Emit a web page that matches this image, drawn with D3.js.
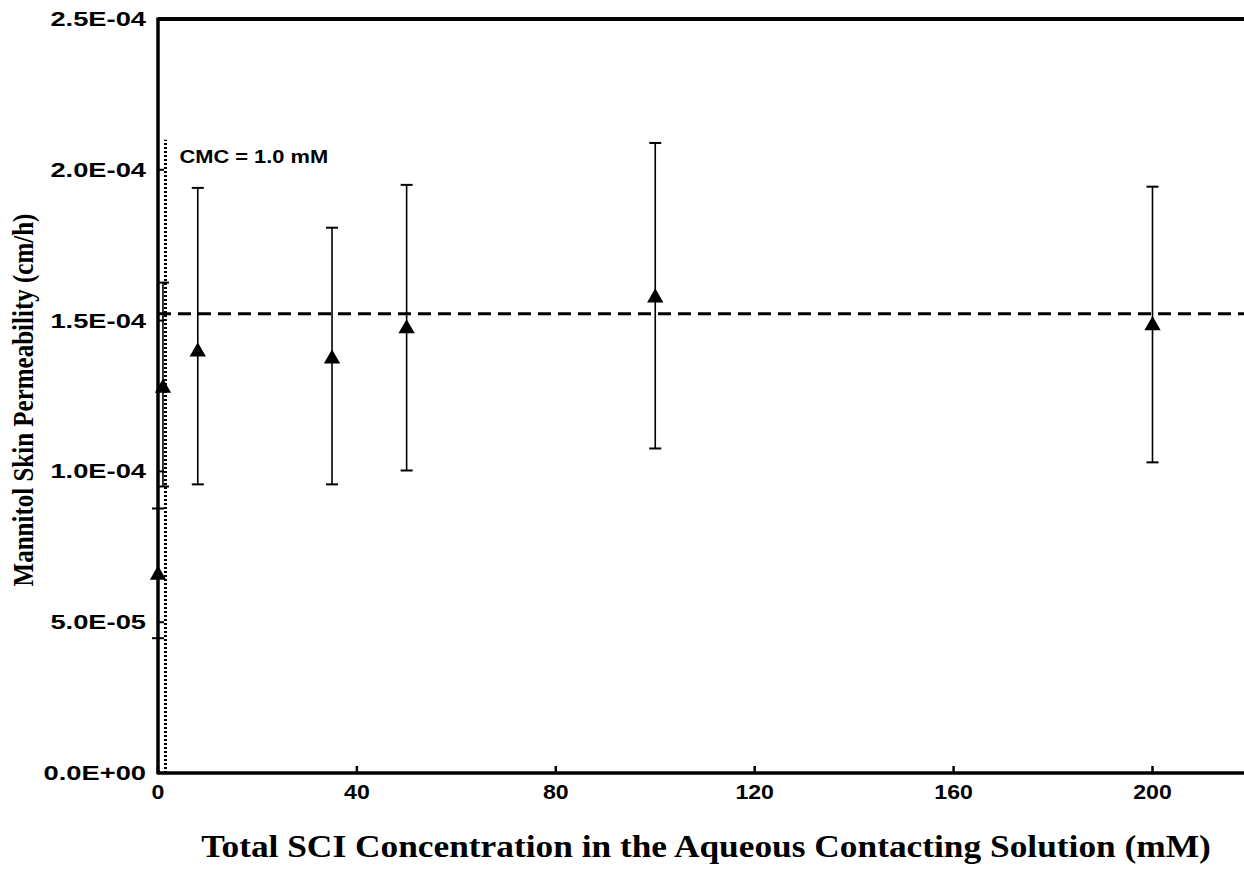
<!DOCTYPE html>
<html>
<head>
<meta charset="utf-8">
<script src="https://cdn.jsdelivr.net/npm/d3@7"></script>
<style>
  body { margin: 0; background: #fff; }
  svg { display: block; }
</style>
</head>
<body>
<svg id="chart"></svg>
<script>
// data
var concentrations = [0, 1, 8, 35, 50, 100, 200]
var permeability   = [6.6e-5, 1.28e-4, 1.40e-4, 1.377e-4, 1.477e-4, 1.579e-4, 1.487e-4]
var errUpper       = [8.77e-5, 1.626e-4, 1.94e-4, 1.808e-4, 1.95e-4, 2.089e-4, 1.944e-4]
var errLower       = [4.47e-5, 9.5e-5, 9.57e-5, 9.57e-5, 1.003e-4, 1.076e-4, 1.03e-4]
var meanPermeability = 1.523e-4
var cmcValue = 1.5
var cmcTop = 2.1e-4
var xTicks = [0, 40, 80, 120, 160, 200]
var yTicks = [0, 5e-5, 1e-4, 1.5e-4, 2e-4, 2.5e-4]

var svg = d3.select("#chart")
var width = 1244, height = 879
svg.attr("width", width).attr("height", height)

var dims = { left: 158, top: 19, bottom: 773 }

var x = d3.scaleLinear().domain([0, 220]).range([dims.left, dims.left + 220 * 4.9725])
var y = d3.scaleLinear().domain([0, 2.5e-4]).range([dims.bottom, dims.top])

var tickFont = "'Liberation Sans', Arial, sans-serif"
var titleFont = "'Liberation Serif', 'Times New Roman', serif"

var data = concentrations.map((c, i) => ({x: c, y: permeability[i], hi: errUpper[i], lo: errLower[i]}))

//mean dashed line
svg.append("line")
   .attr("x1", x(0)).attr("x2", width)
   .attr("y1", y(meanPermeability)).attr("y2", y(meanPermeability))
   .attr("stroke", "#000")
   .attr("stroke-width", 3)
   .attr("stroke-dasharray", "13,7")

//CMC dotted line
svg.append("line")
   .attr("x1", x(cmcValue)).attr("x2", x(cmcValue))
   .attr("y1", y(0)).attr("y2", y(cmcTop))
   .attr("stroke", "#000")
   .attr("stroke-width", 3)
   .attr("stroke-dasharray", "2,2")

svg.append("text")
   .attr("transform", `translate(${x(cmcValue) + 14},${y(cmcTop) + 23}) scale(1.15,1)`)
   .attr("font-family", tickFont)
   .attr("font-weight", "bold")
   .attr("font-size", 19)
   .text("CMC = 1.0 mM")

//error bars
var bars = svg.append("g").selectAll("g").data(data).enter().append("g")
bars.append("line")
    .attr("x1", d => x(d.x)).attr("x2", d => x(d.x))
    .attr("y1", d => y(d.hi)).attr("y2", d => y(d.lo))
    .attr("stroke", "#000").attr("stroke-width", 1.6)
bars.selectAll(".cap").data(d => [[d.x, d.hi], [d.x, d.lo]]).enter().append("line")
    .attr("x1", d => x(d[0]) - 6).attr("x2", d => x(d[0]) + 6)
    .attr("y1", d => y(d[1])).attr("y2", d => y(d[1]))
    .attr("stroke", "#000").attr("stroke-width", 2)

//triangle markers
svg.append("g").selectAll("path").data(data).enter().append("path")
   .attr("d", d3.symbol(d3.symbolTriangle, 115))
   .attr("transform", d => `translate(${x(d.x)},${y(d.y) + 1})`)
   .attr("fill", "#000")

//axes frame
svg.append("line")
   .attr("x1", x(0)).attr("x2", x(0)).attr("y1", y(2.5e-4) - 1.5).attr("y2", y(0) + 1.5)
   .attr("stroke", "#000").attr("stroke-width", 3.5)
svg.append("line")
   .attr("x1", x(0)).attr("x2", width).attr("y1", y(0)).attr("y2", y(0))
   .attr("stroke", "#000").attr("stroke-width", 3.5)
svg.append("line")
   .attr("x1", x(0)).attr("x2", width).attr("y1", y(2.5e-4)).attr("y2", y(2.5e-4))
   .attr("stroke", "#000").attr("stroke-width", 4)

//ticks
svg.append("g").selectAll("line").data(yTicks).enter().append("line")
   .attr("x1", x(0)).attr("x2", x(0) + 6)
   .attr("y1", d => y(d)).attr("y2", d => y(d))
   .attr("stroke", "#000").attr("stroke-width", 2)
svg.append("g").selectAll("line").data(xTicks).enter().append("line")
   .attr("x1", d => x(d)).attr("x2", d => x(d))
   .attr("y1", y(0)).attr("y2", y(0) - 7)
   .attr("stroke", "#000").attr("stroke-width", 2.5)

//tick labels
var fmt = d => d === 0 ? "0.0E+00" : d3.format(".1e")(d).replace("e-", "E-0")
svg.append("g").selectAll("text").data(yTicks).enter().append("text")
   .attr("transform", d => `translate(${x(0) - 12},${y(d) + 7}) scale(1.3,1)`)
   .attr("text-anchor", "end")
   .attr("font-family", tickFont)
   .attr("font-weight", "bold")
   .attr("font-size", 21)
   .text(fmt)
svg.append("g").selectAll("text").data(xTicks).enter().append("text")
   .attr("transform", d => `translate(${x(d)},${y(0) + 26}) scale(1.1,1)`)
   .attr("text-anchor", "middle")
   .attr("font-family", tickFont)
   .attr("font-weight", "bold")
   .attr("font-size", 21)
   .text(d => d)

//axis titles
svg.append("text")
   .attr("transform", "translate(706,857) scale(1.14,1)")
   .attr("text-anchor", "middle")
   .attr("font-family", titleFont)
   .attr("font-weight", "bold")
   .attr("font-size", 31)
   .text("Total SCI Concentration in the Aqueous Contacting Solution (mM)")
svg.append("text")
   .attr("transform", "translate(33,400) rotate(-90) scale(1,1.2)")
   .attr("text-anchor", "middle")
   .attr("font-family", titleFont)
   .attr("font-weight", "bold")
   .attr("font-size", 25)
   .text("Mannitol Skin Permeability (cm/h)")
</script>
</body>
</html>
